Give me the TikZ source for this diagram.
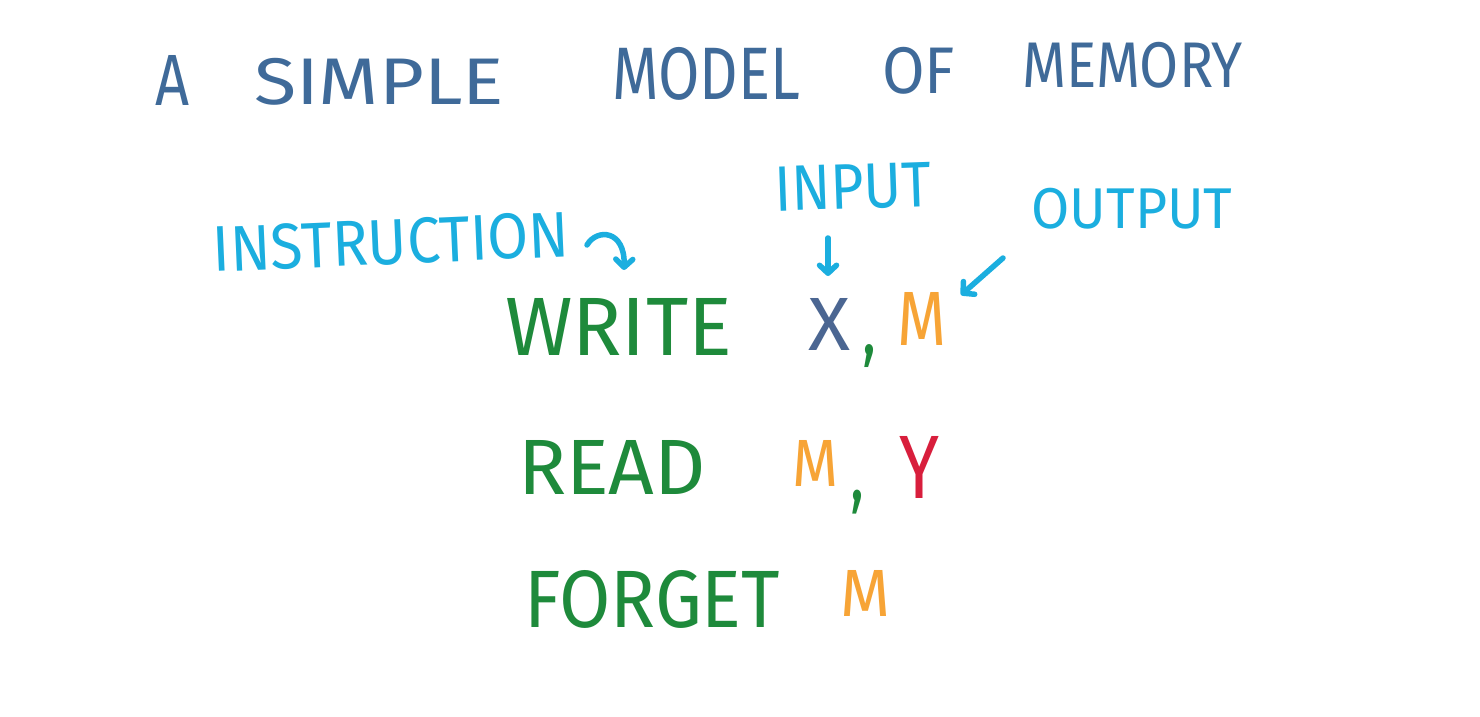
\documentclass[tikz,border=0pt]{standalone}
\usepackage{fontspec}
\setmainfont{Fira Sans}
\usepackage{graphicx}
\usetikzlibrary{arrows.meta}
\definecolor{titleblue}{HTML}{3F6A99}
\definecolor{cyanlbl}{HTML}{1BAEDF}
\definecolor{grn}{HTML}{1E8A3B}
\definecolor{org}{HTML}{F7A436}
\definecolor{redy}{HTML}{D81E3C}
\definecolor{xblue}{HTML}{4B6692}
\newcommand{\hw}[3]{\resizebox*{#1pt}{#2pt}{#3}}
\begin{document}
\begin{tikzpicture}[x=1pt,y=1pt,
  txt/.style={inner sep=0pt,outer sep=0pt,anchor=north west},
  ctr/.style={inner sep=0pt,outer sep=0pt,anchor=center},
  ttl/.style={txt,text=titleblue},
  lbl/.style={ctr,text=cyanlbl},
  cmd/.style={txt,text=grn},
  arr/.style={draw=cyanlbl,line width=5.5pt,line cap=round,-{Straight Barb[length=8pt,width=17pt,round]}}]
\fill[white] (0,0) rectangle (1480,716);
\useasboundingbox (0,0) rectangle (1480,716);
% title
\node[ttl] (tA) at (155,661) {\hw{34}{50}{A}};
\node[ttl] (tSimple) at (254,658) {\hw{250}{47}{SIMPLE}};
\node[ttl] (tModel) at (612,669) {\hw{188}{53}{MODEL}};
\node[ttl] (tOf) at (882,669) {\hw{73}{47}{OF}};
\node[ttl] (tMemory) at (1022,674) {\hw{221}{46}{MEMORY}};
% labels
\node[lbl,rotate=2.5] (instr) at (391,474) {\hw{357}{46}{INSTRUCTION}};
\node[lbl,rotate=2] (input) at (853,529) {\hw{157}{45}{INPUT}};
\node[lbl] (output) at (1132,507) {\hw{201}{41}{OUTPUT}};
% commands
\node[cmd] (write) at (505,418) {\hw{227}{57}{WRITE}};
\node[txt,text=xblue] (x) at (808,418) {\hw{42}{52}{X}};
\node[cmd] (c1) at (862,371) {\hw{14}{23}{,}};
\node[txt,text=org] (m1) at (897,424) {\hw{49}{53}{M}};
\node[cmd] (read) at (518,276) {\hw{188}{54}{READ}};
\node[txt,text=org] (m2) at (792,276) {\hw{46}{46}{M}};
\node[cmd] (c2) at (850,226) {\hw{14}{24}{,}};
\node[txt,text=redy] (y) at (899,280) {\hw{40}{62}{Y}};
\node[cmd] (forget) at (524,146) {\hw{256}{58}{FORGET}};
\node[txt,text=org] (m3) at (840,146) {\hw{50}{46}{M}};
% arrows
\coordinate (iS) at (587,471);
\coordinate (iE) at (624,446);
\coordinate (nS) at (828,478);
\coordinate (nE) at (828,440);
\coordinate (oS) at (1003,458);
\coordinate (oE) at (961,421);
\draw[arr] (iS) .. controls (597,488) and (625,486) .. (iE);
\draw[arr] (nS) -- (nE);
\draw[arr] (oS) -- (oE);
\end{tikzpicture}
\end{document}
